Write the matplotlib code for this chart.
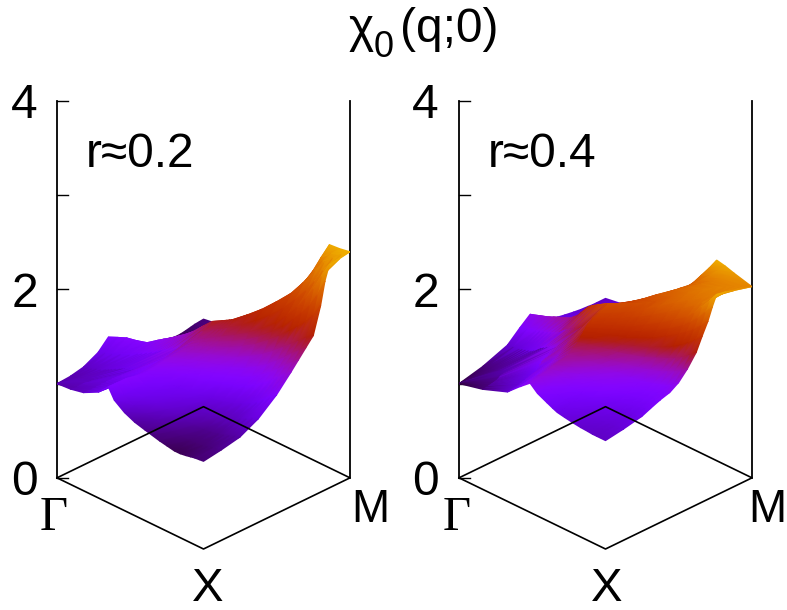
import numpy as np
import matplotlib
matplotlib.use('Agg')
import matplotlib.pyplot as plt
import matplotlib.tri as mtri

plt.rcParams['font.family'] = ['Liberation Sans', 'DejaVu Sans']

# surface read along rays from Gamma, qy = v * qx (other half is the mirror image)
V_02 = [0, .125, .25, .375, .5, .6, .65, .7, .75, .8, .83, .86, .93, 1]
TAIL_02 = [.6, .65, .7, .75, .8, .84, .88, .91, .94, .97, 1]
INNER_02 = [
    [0, .09, .18, .28, .35, .39, .46, .53],
    [0, .09, .185, .29, .365, .405, .47, .535],
    [0, .095, .19, .30, .38, .42, .48, .54],
    [0, .10, .195, .315, .395, .435, .49, .545],
    [0, .10, .20, .33, .41, .45, .50, .55],
    [0, .105, .21, .345, .43, .47, .51, .555],
    [0, .108, .215, .352, .44, .48, .52, .56],
    [0, .11, .22, .36, .45, .49, .53, .565],
    [0, .115, .23, .37, .465, .505, .54, .57],
    [0, .12, .24, .38, .48, .52, .55, .575],
    [0, .122, .245, .39, .49, .53, .555, .58],
    [0, .125, .25, .40, .50, .54, .56, .58],
    [0, .13, .26, .41, .515, .555, .57, .585],
    [0, .135, .27, .42, .53, .57, .58, .59],
]
Z_02 = [
    [1.0, 1.01, 1.04, 1.12, 1.23, 1.12, 1.04, .99, .96, .94, .92, .905, .89, .89, .90, .91, .92, .925, .93],
    [1.0, 1.01, 1.045, 1.13, 1.25, 1.14, 1.07, 1.03, 1.00, .98, .95, .935, .92, .92, .92, .93, .94, .95, .96],
    [1.0, 1.01, 1.05, 1.14, 1.27, 1.17, 1.12, 1.09, 1.06, 1.03, 1.00, .98, .96, .96, .96, .97, .98, .99, 1.0],
    [1.0, 1.015, 1.06, 1.16, 1.27, 1.19, 1.15, 1.12, 1.09, 1.07, 1.04, 1.03, 1.02, 1.02, 1.03, 1.05, 1.07, 1.09, 1.10],
    [1.0, 1.02, 1.07, 1.18, 1.28, 1.22, 1.19, 1.16, 1.14, 1.12, 1.10, 1.09, 1.09, 1.10, 1.12, 1.14, 1.18, 1.22, 1.26],
    [1.0, 1.025, 1.085, 1.21, 1.33, 1.30, 1.28, 1.26, 1.25, 1.23, 1.21, 1.20, 1.21, 1.23, 1.27, 1.30, 1.35, 1.39, 1.43],
    [1.0, 1.028, 1.09, 1.225, 1.355, 1.34, 1.32, 1.305, 1.30, 1.28, 1.27, 1.265, 1.28, 1.31, 1.35, 1.39, 1.44, 1.48, 1.52],
    [1.0, 1.03, 1.10, 1.24, 1.38, 1.38, 1.37, 1.365, 1.36, 1.34, 1.33, 1.33, 1.36, 1.39, 1.44, 1.48, 1.53, 1.57, 1.61],
    [1.0, 1.03, 1.11, 1.26, 1.41, 1.425, 1.425, 1.42, 1.42, 1.41, 1.41, 1.43, 1.46, 1.50, 1.55, 1.59, 1.63, 1.67, 1.70],
    [1.0, 1.03, 1.12, 1.28, 1.44, 1.47, 1.475, 1.48, 1.48, 1.48, 1.50, 1.53, 1.58, 1.63, 1.69, 1.74, 1.79, 1.87, 1.98],
    [1.0, 1.035, 1.125, 1.30, 1.47, 1.50, 1.51, 1.52, 1.52, 1.53, 1.55, 1.59, 1.65, 1.71, 1.79, 1.86, 1.94, 2.06, 2.22],
    [1.0, 1.04, 1.13, 1.32, 1.50, 1.53, 1.54, 1.55, 1.56, 1.58, 1.61, 1.66, 1.72, 1.80, 1.90, 1.99, 2.10, 2.24, 2.37],
    [1.0, 1.04, 1.14, 1.35, 1.58, 1.60, 1.605, 1.61, 1.62, 1.65, 1.70, 1.76, 1.84, 1.93, 2.03, 2.13, 2.25, 2.33, 2.38],
    [1.0, 1.04, 1.15, 1.38, 1.66, 1.67, 1.672, 1.675, 1.68, 1.73, 1.79, 1.87, 1.96, 2.07, 2.20, 2.28, 2.33, 2.37, 2.40],
]

V_04 = [0, .125, .25, .31, .375, .44, .5, .56, .62, .66, .7, .73, .76, .82, .88, 1]
TAIL_04 = [.6, .64, .67, .72, .78, .83, .88, .91, .94, .97, 1]
INNER_04 = [
    [0, .16, .33, .415, .485, .535],
    [0, .16, .33, .415, .487, .537],
    [0, .16, .33, .42, .49, .54],
    [0, .16, .33, .42, .492, .542],
    [0, .16, .33, .42, .495, .545],
    [0, .16, .33, .42, .497, .547],
    [0, .16, .33, .42, .50, .55],
    [0, .16, .33, .42, .50, .55],
    [0, .16, .33, .42, .50, .55],
    [0, .16, .33, .42, .50, .55],
    [0, .16, .33, .42, .50, .55],
    [0, .16, .33, .42, .50, .55],
    [0, .16, .33, .42, .50, .55],
    [0, .16, .33, .42, .50, .55],
    [0, .16, .33, .42, .503, .553],
    [0, .16, .33, .42, .505, .555],
]
Z_04 = [
    [1.0, 1.06, 1.16, 1.28, 1.37, 1.30, 1.25, 1.22, 1.20, 1.185, 1.17, 1.16, 1.155, 1.15, 1.15, 1.15, 1.15],
    [1.0, 1.065, 1.17, 1.30, 1.40, 1.32, 1.27, 1.25, 1.23, 1.21, 1.19, 1.18, 1.175, 1.17, 1.17, 1.175, 1.18],
    [1.0, 1.07, 1.18, 1.32, 1.43, 1.38, 1.31, 1.29, 1.27, 1.25, 1.22, 1.21, 1.20, 1.20, 1.20, 1.21, 1.22],
    [1.0, 1.072, 1.19, 1.335, 1.45, 1.40, 1.345, 1.325, 1.305, 1.285, 1.255, 1.24, 1.23, 1.23, 1.23, 1.24, 1.26],
    [1.0, 1.075, 1.20, 1.35, 1.47, 1.43, 1.38, 1.36, 1.34, 1.32, 1.29, 1.27, 1.26, 1.26, 1.26, 1.28, 1.30],
    [1.0, 1.078, 1.21, 1.365, 1.485, 1.46, 1.42, 1.40, 1.38, 1.355, 1.325, 1.305, 1.295, 1.295, 1.295, 1.31, 1.33],
    [1.0, 1.08, 1.22, 1.38, 1.50, 1.49, 1.46, 1.44, 1.42, 1.39, 1.36, 1.34, 1.33, 1.33, 1.33, 1.35, 1.39],
    [1.0, 1.085, 1.24, 1.40, 1.54, 1.53, 1.51, 1.49, 1.47, 1.45, 1.43, 1.42, 1.42, 1.43, 1.44, 1.46, 1.49],
    [1.0, 1.09, 1.26, 1.42, 1.58, 1.57, 1.55, 1.54, 1.52, 1.51, 1.50, 1.51, 1.52, 1.53, 1.55, 1.58, 1.62],
    [1.0, 1.095, 1.28, 1.445, 1.62, 1.62, 1.60, 1.60, 1.58, 1.58, 1.58, 1.60, 1.62, 1.64, 1.67, 1.71, 1.76],
    [1.0, 1.10, 1.30, 1.47, 1.66, 1.66, 1.65, 1.65, 1.64, 1.65, 1.66, 1.69, 1.72, 1.75, 1.78, 1.83, 1.89],
    [1.0, 1.105, 1.31, 1.485, 1.69, 1.69, 1.69, 1.69, 1.68, 1.70, 1.72, 1.75, 1.79, 1.83, 1.88, 1.95, 2.02],
    [1.0, 1.11, 1.32, 1.50, 1.72, 1.72, 1.72, 1.72, 1.72, 1.75, 1.78, 1.82, 1.86, 1.91, 1.98, 2.05, 2.13],
    [1.0, 1.115, 1.34, 1.52, 1.76, 1.76, 1.77, 1.78, 1.79, 1.82, 1.86, 1.90, 1.94, 1.98, 2.02, 2.07, 2.11],
    [1.0, 1.12, 1.36, 1.55, 1.79, 1.79, 1.80, 1.82, 1.84, 1.88, 1.92, 1.95, 1.98, 2.00, 2.03, 2.06, 2.08],
    [1.0, 1.13, 1.38, 1.60, 1.85, 1.85, 1.85, 1.86, 1.87, 1.92, 1.97, 2.00, 2.02, 2.025, 2.03, 2.03, 2.03],
]

Z_TICKS = [0, 1, 2, 3, 4]
TILT = 71 / 94.0  # base plane height per unit of qx-qy, in z units
FS = 34.5


def project(qx, qy, z):
    return qx + qy, z - TILT * (qx - qy)


def panel(left, v, inner, tail, z, vmin, vmax):
    ax = fig.add_axes([left / 787, 61 / 610, 293 / 787, 448 / 610])
    ax.set_xlim(0, 2)
    ax.set_ylim(-TILT, 4)
    ax.axis('off')

    qx = np.array([row + tail for row in inner])
    qy = qx * np.array(v)[:, None]
    z = np.array(z)
    nr, ns = qx.shape
    idx = np.arange(nr * ns).reshape(nr, ns)
    tris = []
    for i in range(nr - 1):
        for j in range(ns - 1):
            tris.append([idx[i, j], idx[i + 1, j], idx[i + 1, j + 1]])
            tris.append([idx[i, j], idx[i + 1, j + 1], idx[i, j + 1]])
    tris = np.array(tris)
    # mirror half behind the Gamma-M diagonal
    px = np.concatenate([qx.ravel(), qy.ravel()])
    py = np.concatenate([qy.ravel(), qx.ravel()])
    pz = np.concatenate([z.ravel(), z.ravel()])
    tris = np.vstack([tris, tris + nr * ns])
    # painter's order, far corner first
    depth = (py[tris] - px[tris]).mean(axis=1)
    tris = tris[np.argsort(-depth)]

    for t in Z_TICKS:
        ax.plot([0, 0.075], [t, t], color='k', lw=1.0, zorder=1, clip_on=False)
    ax.plot([0, 0], [0, 4], color='k', lw=1.3, zorder=1, clip_on=False)
    ax.plot([2, 2], [0, 4], color='k', lw=1.3, zorder=1, clip_on=False)

    x, y = project(px, py, pz)
    ax.tripcolor(mtri.Triangulation(x, y, tris), pz, shading='gouraud',
                 cmap='gnuplot', vmin=vmin, vmax=vmax, zorder=2)

    bx, by = project(np.array([0, 1, 1, 0, 0.]), np.array([0, 0, 1, 1, 0.]), 0)
    ax.plot(bx, by, color='k', lw=1.2, zorder=3, clip_on=False)
    return ax


def label(x, y, s, ha='center', size=FS, **kw):
    # x and y: pixel position of the text baseline
    fig.text(x / 787, 1 - y / 610, s, fontsize=size, ha=ha, va='baseline', **kw)


fig = plt.figure(figsize=(7.87, 6.10), dpi=100)
panel(57, V_02, INNER_02, TAIL_02, Z_02, 0.785, 2.6)
panel(459, V_04, INNER_04, TAIL_04, Z_04, 0.96, 2.29)

for x0 in [24.5, 425.5]:
    for s, yb in [('0', 495), ('2', 307), ('4', 118)]:
        label(x0, yb, s)
for xm, xx, xg, name, xr in [(370, 208, 54, 'r≈0.2', 86), (767.5, 607, 457, 'r≈0.4', 488)]:
    label(xm, 522, 'M', size=33)
    label(xx, 601, 'X', size=34)
    label(xg, 530, 'Γ', size=35, family='Liberation Serif')
    label(xr, 167, name, ha='left')

label(349, 42, 'χ', ha='left')
label(374, 57, '0', ha='left', size=26)
label(498, 42, '(q;0)', ha='right')

fig.savefig('out.png', dpi=100)
